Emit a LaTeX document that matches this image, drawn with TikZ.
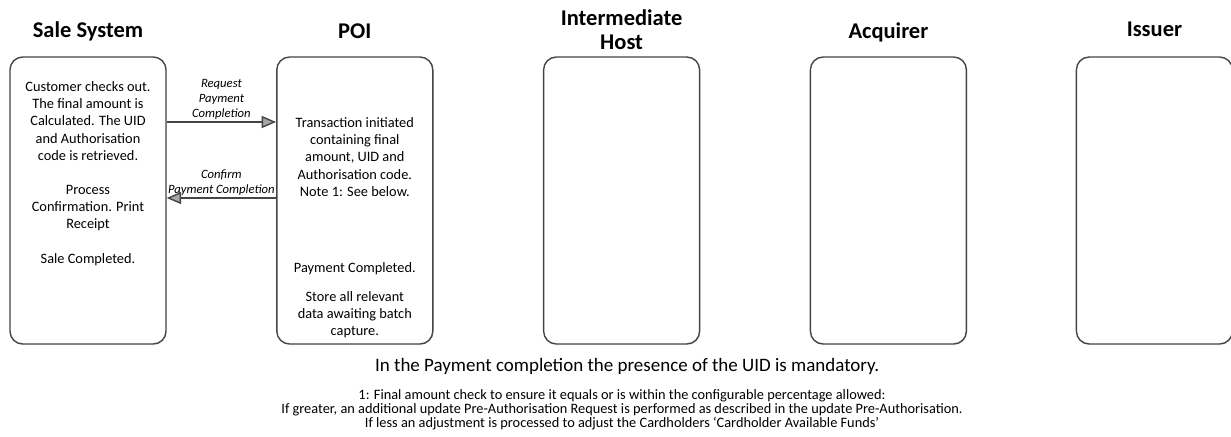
\documentclass[tikz,border=0pt]{standalone}
\usepackage{fontspec}
\setmainfont{Carlito}
\usepackage{tikz}
\usetikzlibrary{arrows.meta}
\usetikzlibrary{shadows}
\usetikzlibrary{positioning}

\definecolor{edgegray}{HTML}{454545}
\definecolor{headgray}{HTML}{A6A6A6}

\begin{document}
\begin{tikzpicture}[
    lane/.style={draw=edgegray, line width=1pt, rounded corners=0.32cm, fill=white,
      minimum width=3.9cm, minimum height=7.175cm,
      drop shadow={opacity=0.12, shadow xshift=0.6pt, shadow yshift=-1pt}},
    title/.style={font=\fontsize{16}{17}\selectfont\bfseries, align=center},
    txt/.style={font=\fontsize{10.2}{12.2}\selectfont, align=center, inner sep=0pt},
    msg/.style={draw=edgegray, line width=1pt,
      -{Triangle[length=0.36cm, width=0.3cm, fill=headgray]}},
    lbl/.style={font=\fontsize{9}{10.7}\selectfont\itshape, align=center, inner sep=1.5pt}
  ]
    \useasboundingbox (0,0) rectangle (30.775,10.9);

    % lanes
    \node[lane] (sale) at (2.2,5.8875) {};
    \node[lane] (poi) at (8.87,5.8875) {};
    \node[lane] (host) at (15.54,5.8875) {};
    \node[lane] (acq) at (22.21,5.8875) {};
    \node[lane] (iss) at (28.86,5.8875) {};

    \node[title] (saleT) at (2.2,10.12) {Sale System};
    \node[title] (poiT) at (8.87,10.12) {POI};
    \node[title] (hostT) at (15.54,10.15) {Intermediate\\Host};
    \node[title] (acqT) at (22.21,10.1) {Acquirer};
    \node[title] (issT) at (28.86,10.18) {Issuer};

    % sale system text
    \node[txt] (saleA) at (2.2,6.5625) {Customer checks out.\\The final amount is\\Calculated. The UID\\and Authorisation\\code is retrieved.\\[12.2pt]Process\\Confirmation. Print\\Receipt\\[12.2pt]Sale Completed.};

    % poi text
    \node[txt] (poiA) at (8.87,6.975) {Transaction initiated\\containing final\\amount, UID and\\Authorisation code.\\Note 1: See below.};
    \node[txt] (poiB) at (8.87,4.175) {Payment Completed.};
    \node[txt] (poiC) at (8.87,3.025) {Store all relevant\\data awaiting batch\\capture.};

    % messages
    \draw[msg] ([yshift=1.9625cm]sale.east) -- node[lbl, above] {Request\\Payment\\Completion} ([yshift=1.9625cm]poi.west);
    \draw[msg] ([yshift=0.0625cm]poi.west) -- node[lbl, above] {Confirm\\Payment Completion} ([yshift=0.0625cm]sale.east);

    % notes
    \node[font=\fontsize{13.5}{15}\selectfont] (uid) at (15.68,1.75) {In the Payment completion the presence of the UID is mandatory.};
    \node[font=\fontsize{10.2}{10}\selectfont, align=center] (note) at (15.55,0.66) {1: Final amount check to ensure it equals or is within the configurable percentage allowed:\\If greater, an additional update Pre-Authorisation Request is performed as described in the update Pre-Authorisation.\\If less an adjustment is processed to adjust the Cardholders ‘Cardholder Available Funds’};
  \end{tikzpicture}
\end{document}
